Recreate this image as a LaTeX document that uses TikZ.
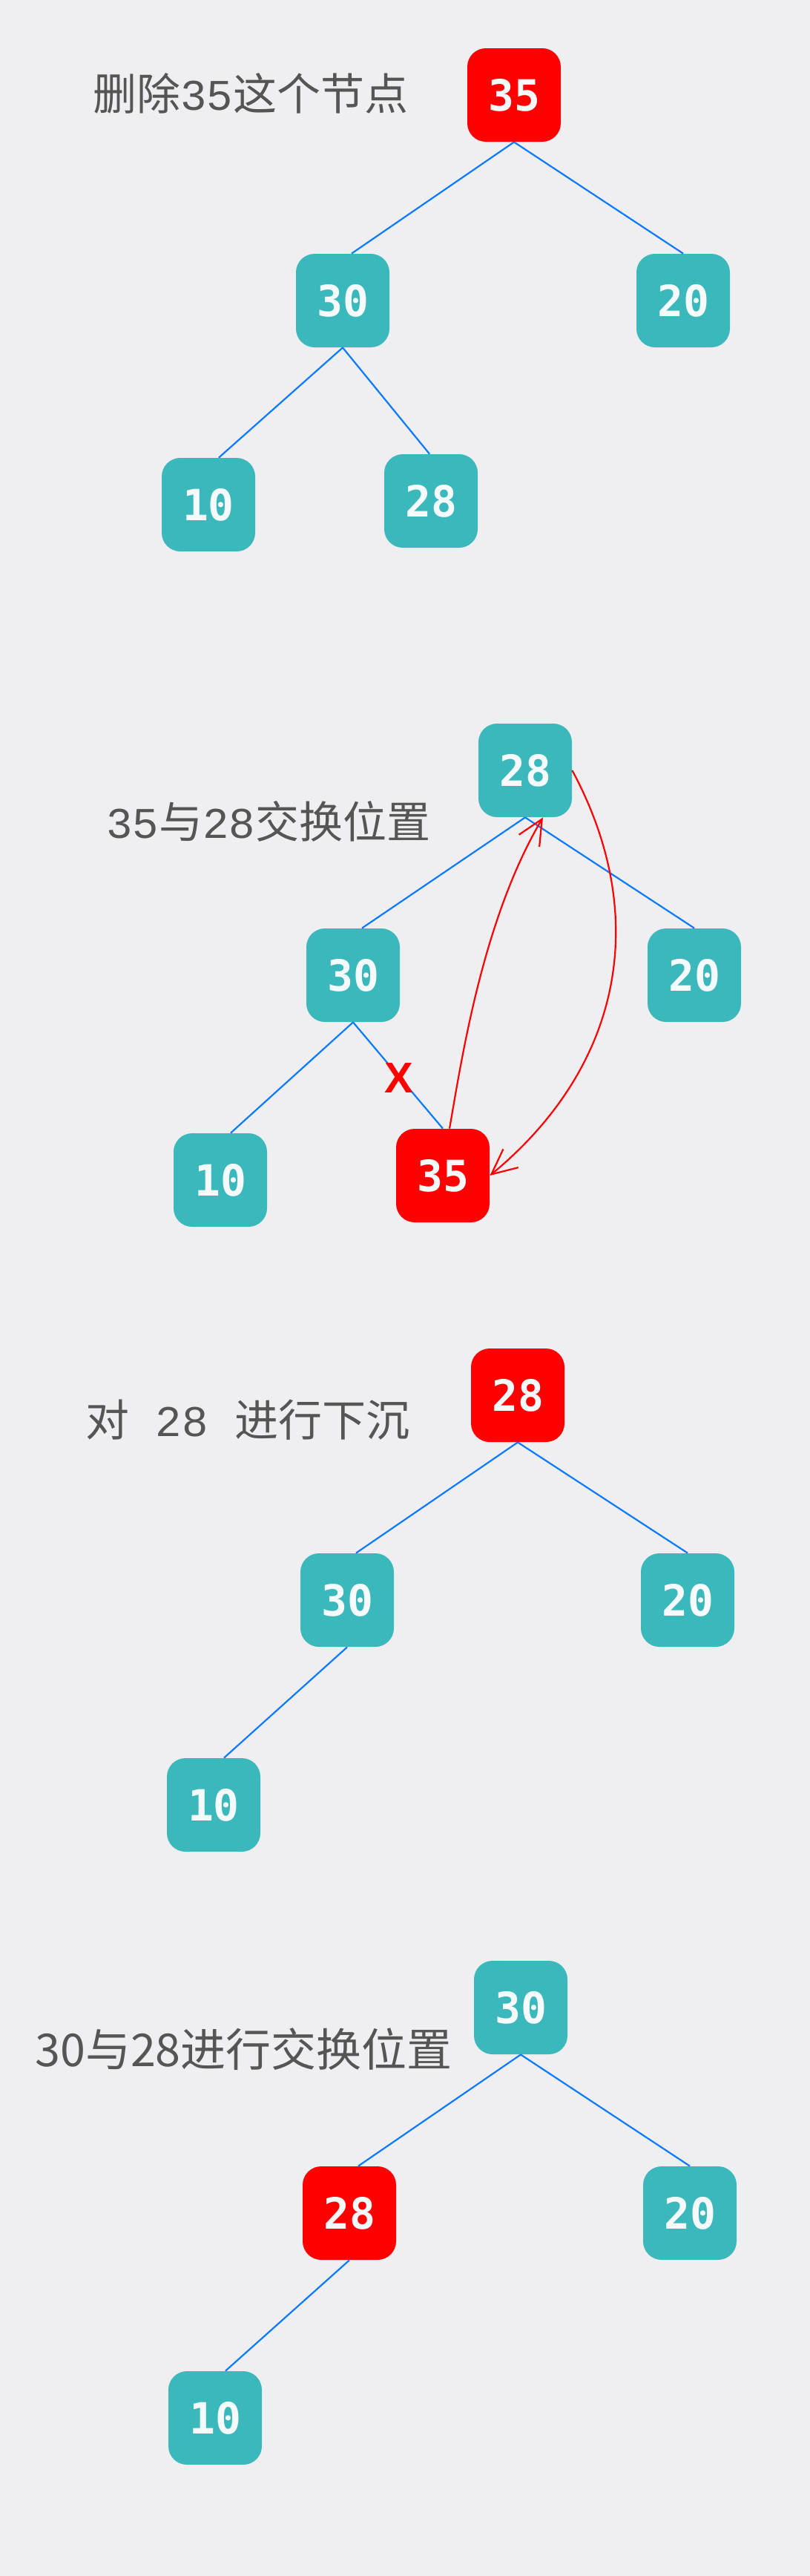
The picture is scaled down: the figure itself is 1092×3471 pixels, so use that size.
\documentclass[tikz,border=0pt]{standalone}
\usepackage{fontspec}
\setmainfont{Noto Sans CJK SC}
\newfontfamily\numfont{Liberation Mono}
\newfontfamily\keyfont{DejaVu Sans Mono}
\newfontfamily\markfont{Liberation Sans}
\usetikzlibrary{arrows.meta}
\definecolor{bgcol}{RGB}{239,239,242}
\definecolor{keyteal}{RGB}{59,184,188}
\definecolor{keyred}{RGB}{255,0,0}
\definecolor{edgeblue}{RGB}{10,122,255}
\definecolor{notegray}{RGB}{85,85,85}
\begin{document}
\begin{tikzpicture}[x=0.5pt, y=-0.5pt,
  key/.style={rounded corners=12.5pt, minimum width=63pt, minimum height=63pt, inner sep=0pt, text=white!95!keyteal, font={\keyfont\bfseries\fontsize{29pt}{34pt}\selectfont}},
  edge/.style={edgeblue, line width=1.1pt},
  swapline/.style={keyred, line width=1.1pt, -{Straight Barb[length=17pt,width=16pt,line width=1.1pt]}},
  note/.style={anchor=west, text=notegray, inner sep=0pt, font={\fontsize{29.5pt}{34pt}\selectfont}}]
\fill[bgcol] (0,0) rectangle (1092,3471);
\useasboundingbox (0,0) rectangle (1092,3471);
\foreach \name/\x/\y/\col/\val in {a35/693/128/keyred/35,a30/462/405/keyteal/30,a20/921/405/keyteal/20,a10/281/680/keyteal/10,a28/581/675/keyteal/28,
  b28/708/1038/keyteal/28,b30/476/1314/keyteal/30,b20/936/1314/keyteal/20,b10/297/1590/keyteal/10,b35/597/1584/keyred/35,
  c28/698/1880/keyred/28,c30/468/2156/keyteal/30,c20/927/2156/keyteal/20,c10/288/2432/keyteal/10,
  d30/702/2705/keyteal/30,d28/471/2982/keyred/28,d20/930/2982/keyteal/20,d10/290/3258/keyteal/10}
  \node[key, fill=\col] (\name) at (\x,\y) {\val};
\foreach \a/\b/\s in {a35/a30/6,a35/a20/0,a30/a10/7,a30/a28/-1,b28/b30/6,b28/b20/0,b30/b10/7,b30/b35/0,c28/c30/6,c28/c20/0,c30/c10/7,d30/d28/6,d30/d20/0,d28/d10/7}
  \draw[edge] (\a.south) -- ([xshift=\s pt]\b.north);
\node[note] (note1) at (125,126) {删除{\numfont 35}这个节点};
\node[note] (note2) at (143,1107) {{\numfont 35}与{\numfont 28}交换位置};
\node[note] (note3) at (115,1913) {对{\numfont\ 28\ }进行下沉};
\node[note, font={\fontsize{30.5pt}{36pt}\selectfont}] (note4) at (47,2761) {30与28进行交换位置};
\node[text=keyred, inner sep=0pt, font={\markfont\bfseries\fontsize{29pt}{34pt}\selectfont}] (xmark) at (538,1453) {X};
\draw[swapline] ([xshift=4.5pt]b35.north) .. controls (622,1430) and (650,1240) .. ([xshift=12pt]b28.south);
\draw[swapline] (b28.east) .. controls (880,1240) and (835,1440) .. (b35.east);
\end{tikzpicture}
\end{document}
